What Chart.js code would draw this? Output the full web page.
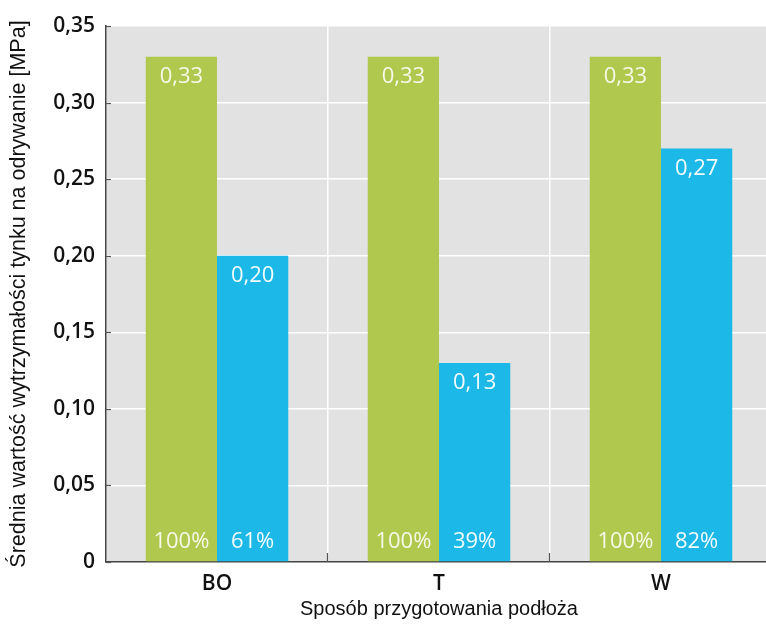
<!DOCTYPE html>
<html>
<head>
<meta charset="utf-8">
<script src="https://cdn.jsdelivr.net/npm/chart.js@4.4.0/dist/chart.umd.min.js"></script>
<style>
html,body{margin:0;padding:0;background:#fff;overflow:hidden;}
#wrap{width:772px;height:627px;position:relative;}
</style>
</head>
<body>
<div id="wrap"><canvas id="c"></canvas></div>
<script>
const categories = ['BO', 'T', 'W'];
const greenValues = [0.33, 0.33, 0.33];
const blueValues = [0.20, 0.13, 0.27];
const greenPercent = ['100%', '100%', '100%'];
const bluePercent = ['61%', '39%', '82%'];
const yTicks = [0, 0.05, 0.10, 0.15, 0.20, 0.25, 0.30, 0.35];

const GREEN = '#b0c84e';
const BLUE = '#1cb8e8';
const BG = '#e1e2e1';

const fmt = v => v === 0 ? '0' : v.toFixed(2).replace('.', ',');

const bgPlugin = {
  id: 'bg',
  beforeDraw(chart) {
    const {ctx, chartArea: a} = chart;
    ctx.save();
    ctx.fillStyle = BG;
    ctx.fillRect(a.left, a.top, a.right - a.left, a.bottom - a.top);
    ctx.restore();
  }
};

const inwardTicks = {
  id: 'inwardTicks',
  afterDatasetsDraw(chart) {
    const {ctx, chartArea: a, scales} = chart;
    ctx.save();
    ctx.strokeStyle = '#555';
    ctx.lineWidth = 1.2;
    yTicks.forEach(v => {
      const y = Math.round(scales.y.getPixelForValue(v)) + 0.5;
      ctx.beginPath(); ctx.moveTo(a.left, y); ctx.lineTo(a.left + 5, y); ctx.stroke();
    });
    for (let i = 0; i < categories.length - 1; i++) {
      const x = Math.round((scales.x.getPixelForValue(i) + scales.x.getPixelForValue(i + 1)) / 2) - 0.5;
      ctx.beginPath(); ctx.moveTo(x, a.bottom); ctx.lineTo(x, a.bottom - 9); ctx.stroke();
    }
    ctx.restore();
  }
};

const labelsPlugin = {
  id: 'barLabels',
  afterDatasetsDraw(chart) {
    const {ctx, chartArea: a} = chart;
    ctx.save();
    ctx.font = '22px "Open Sans"';
    ctx.textAlign = 'center';
    ctx.textBaseline = 'middle';
    const pcts = [greenPercent, bluePercent];
    chart.data.datasets.forEach((ds, di) => {
      const meta = chart.getDatasetMeta(di);
      meta.data.forEach((bar, i) => {
        ctx.fillStyle = di === 0 ? '#f7f8e8' : '#f2fbff';
        ctx.fillText(fmt(ds.data[i]), bar.x, bar.y + 20);
        ctx.fillText(pcts[di][i], bar.x, a.bottom - 20);
      });
    });
    ctx.restore();
  }
};

new Chart(document.getElementById('c'), {
  type: 'bar',
  data: {
    labels: categories,
    datasets: [
      {data: greenValues, backgroundColor: GREEN, borderWidth: 0},
      {data: blueValues, backgroundColor: BLUE, borderWidth: 0}
    ]
  },
  options: {
    responsive: true,
    maintainAspectRatio: false,
    animation: false,
    events: [],
    layout: {padding: {top: 26, right: 0, left: 0, bottom: 0}},
    plugins: {legend: {display: false}, tooltip: {enabled: false}},
    datasets: {bar: {categoryPercentage: 0.642, barPercentage: 1.0}},
    scales: {
      x: {
        grid: {color: '#ffffff', lineWidth: 1.5, drawTicks: false, offset: true},
        border: {color: '#444', width: 1.5},
        ticks: {color: '#111', font: {family: 'Open Sans', size: 21, weight: '600'}, padding: 9},
        title: {display: true, text: 'Sposób przygotowania podłoża', color: '#111',
                font: {family: 'Liberation Sans', size: 20}, padding: {top: 2, bottom: 6}},
        afterFit(s) { s.height = 65; }
      },
      y: {
        min: 0, max: 0.35,
        afterBuildTicks(s) { s.ticks = yTicks.map(v => ({value: v})); },
        grid: {color: '#ffffff', lineWidth: 1.5, drawTicks: false},
        border: {color: '#444', width: 1.5},
        ticks: {color: '#111', font: {family: 'Open Sans', size: 21, weight: '600'}, padding: 11,
                callback: v => fmt(v)},
        title: {display: true, text: 'Średnia wartość wytrzymałości tynku na odrywanie [MPa]', color: '#111',
                font: {family: 'Liberation Sans', size: 21.5}, padding: {top: 6, bottom: 0}},
        afterFit(s) { s.width = 106; }
      }
    }
  },
  plugins: [bgPlugin, inwardTicks, labelsPlugin]
});
</script>
</body>
</html>
